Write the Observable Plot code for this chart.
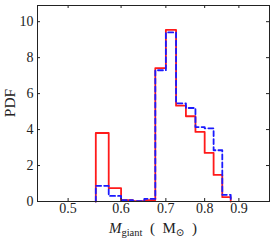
<!DOCTYPE html>
<html>
<head>
<meta charset="utf-8">
<script src="https://cdn.jsdelivr.net/npm/d3@7"></script>
<script src="https://cdn.jsdelivr.net/npm/@observablehq/plot@0.6"></script>
<style>
  html, body { margin: 0; padding: 0; background: #fff; }
  svg { display: block; }
</style>
</head>
<body>
<div id="chart"></div>
<script>
// Bin edges (M_giant, solar masses)
const binEdges = [0.55, 0.575, 0.6, 0.625, 0.65, 0.675, 0.7, 0.725, 0.75, 0.775, 0.8, 0.825, 0.85, 0.875];
// PDF values per bin
const redPdf  = [3.81, 0.74, 0.07, 0.02, 0.08, 7.42, 9.55, 5.33, 4.74, 3.87, 2.70, 1.48, 0.24];
const bluePdf = [0.87, 0.31, 0.07, 0.02, 0.15, 7.30, 9.40, 5.46, 5.20, 4.14, 4.07, 2.85, 0.37];
// Tick labels
const xTicks = [0.5, 0.6, 0.7, 0.8, 0.9];
const yTicks = [0, 2, 4, 6, 8, 10];

function outline(vals) {
  const pts = [{x: binEdges[0], y: 0}];
  vals.forEach((v, i) => pts.push({x: binEdges[i], y: v}));
  pts.push({x: binEdges[binEdges.length - 1], y: 0});
  return pts;
}

const font = "'Liberation Serif', 'DejaVu Serif', serif";
const ink = "#222";
const xDom = [0.45, 1.0];
const yDom = [0, 10.9];
const tickY = yDom[1] * 3 / 196;            // ~3px in y data units
const tickXf = Math.pow(xDom[1] / xDom[0], 3 / 232); // ~3px in log-x factor

const plot = Plot.plot({
  width: 274,
  height: 240,
  marginLeft: 37,
  marginRight: 5,
  marginTop: 5,
  marginBottom: 39,
  style: {fontFamily: font, fontSize: "14px", color: ink, background: "#fff"},
  x: {type: "log", domain: xDom, axis: null},
  y: {domain: yDom, axis: null},
  marks: [
    Plot.line(outline(redPdf), {x: "x", y: "y", curve: "step-after", stroke: "#ff1a1a", strokeWidth: 1.8}),
    Plot.line(outline(bluePdf), {x: "x", y: "y", curve: "step-after", stroke: "#1a1aff", strokeWidth: 1.8, strokeDasharray: "5,3"}),
    // inward ticks on all four sides
    Plot.ruleX(xTicks, {x: d => d, y1: yDom[0], y2: yDom[0] + tickY, stroke: ink}),
    Plot.ruleX(xTicks, {x: d => d, y1: yDom[1] - tickY, y2: yDom[1], stroke: ink}),
    Plot.ruleY(yTicks, {y: d => d, x1: xDom[0], x2: xDom[0] * tickXf, stroke: ink}),
    Plot.ruleY(yTicks, {y: d => d, x1: xDom[1] / tickXf, x2: xDom[1], stroke: ink}),
    // tick labels
    Plot.text(xTicks, {x: d => d, frameAnchor: "bottom", dy: 11, text: d3.format(".1f"), fontSize: 14, fill: ink}),
    Plot.text(yTicks, {y: d => d, frameAnchor: "left", dx: -4, textAnchor: "end", text: d => String(d), fontSize: 14, fill: ink}),
    Plot.frame({stroke: ink, strokeWidth: 1})
  ]
});

const svg = d3.select(plot);
// x label: M_giant ( M_sun )
const xl = svg.append("text")
  .attr("x", 153).attr("y", 233)
  .attr("text-anchor", "middle")
  .attr("font-family", font)
  .attr("font-size", 15)
  .attr("fill", ink);
xl.append("tspan").attr("font-style", "italic").text("M");
xl.append("tspan").attr("font-size", 10.5).attr("dy", 3).text("giant");
xl.append("tspan").attr("dy", -3).text("\u00a0\u00a0(\u00a0\u00a0M");
xl.append("tspan").attr("font-size", 10.5).attr("dy", 3).text("\u2299");
xl.append("tspan").attr("dy", -3).text("\u00a0\u00a0)");

// y label
svg.append("text")
  .attr("transform", "translate(15,103) rotate(-90)")
  .attr("text-anchor", "middle")
  .attr("font-family", font)
  .attr("font-size", 15.5)
  .attr("fill", ink)
  .text("PDF");

document.getElementById("chart").appendChild(plot);
</script>
</body>
</html>
